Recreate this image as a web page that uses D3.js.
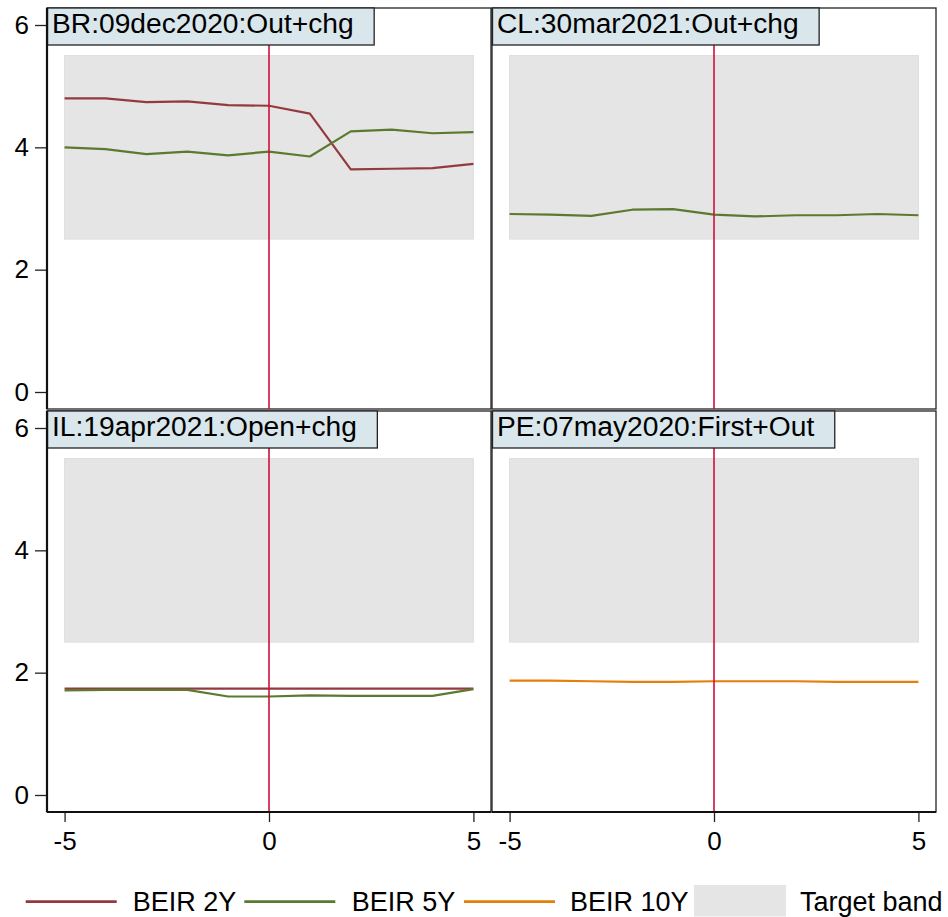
<!DOCTYPE html>
<html lang="en">
<head>
<meta charset="utf-8">
<title>BEIR around events</title>
<script src="https://d3js.org/d3.v7.min.js"></script>
<style>
  body { margin: 0; background: #fff; }
  text { font-family: "Liberation Sans", Arial, sans-serif; fill: #000; }
</style>
</head>
<body>
<div class="chart"></div>
<script>
// event window (days)
var days = [-5, -4, -3, -2, -1, 0, 1, 2, 3, 4, 5];

var panelTitles = ["BR:09dec2020:Out+chg", "CL:30mar2021:Out+chg",
                   "IL:19apr2021:Open+chg", "PE:07may2020:First+Out"];

// series
var br2y  = [4.80, 4.80, 4.74, 4.75, 4.69, 4.68, 4.55, 3.64, 3.65, 3.66, 3.73];
var br5y  = [4.00, 3.97, 3.89, 3.93, 3.87, 3.93, 3.85, 4.26, 4.29, 4.23, 4.25];
var cl5y  = [2.91, 2.90, 2.88, 2.98, 2.99, 2.90, 2.87, 2.89, 2.89, 2.91, 2.89];
var il2y  = [1.74, 1.74, 1.74, 1.74, 1.74, 1.74, 1.74, 1.74, 1.74, 1.74, 1.74];
var il5y  = [1.71, 1.72, 1.72, 1.72, 1.61, 1.61, 1.63, 1.62, 1.62, 1.62, 1.73];
var pe10y = [1.87, 1.87, 1.86, 1.85, 1.85, 1.86, 1.86, 1.86, 1.85, 1.85, 1.85];

var targetBand = [2.5, 5.5];
var yTicks = [0, 2, 4, 6];
var xTicks = [-5, 0, 5];
var legendLabels = ["BEIR 2Y", "BEIR 5Y", "BEIR 10Y", "Target band"];

var colors = { b2: "#933a3f", b5: "#5b7a2f", b10: "#e57e0b" };

var panels = [
  { title: panelTitles[0], series: [{ c: colors.b2, v: br2y }, { c: colors.b5, v: br5y }] },
  { title: panelTitles[1], series: [{ c: colors.b5, v: cl5y }] },
  { title: panelTitles[2], series: [{ c: colors.b2, v: il2y }, { c: colors.b5, v: il5y }] },
  { title: panelTitles[3], series: [{ c: colors.b10, v: pe10y }] }
];

var width = 948, height = 917;
var colX = [47, 492], rowY = [8, 411];
var pw = 444, ph = 401;

var svg = d3.select(".chart").append("svg")
    .attr("width", width)
    .attr("height", height);

panels.forEach(function(p, i) {
  var col = i % 2, row = Math.floor(i / 2);
  var x0 = colX[col], y0 = rowY[row];

  var x = d3.scaleLinear().domain([-5.43, 5.43]).range([x0, x0 + pw]);
  var y = d3.scaleLinear().domain([-0.278, 6.278]).range([y0 + ph, y0]);

  var g = svg.append("g");

  // frame
  g.append("rect")
    .attr("x", x0).attr("y", y0)
    .attr("width", pw).attr("height", ph)
    .attr("fill", "#fff")
    .attr("stroke", "#222")
    .attr("stroke-width", 1.3);

  // target band
  g.append("rect")
    .attr("x", x(-5)).attr("y", y(targetBand[1]))
    .attr("width", x(5) - x(-5))
    .attr("height", y(targetBand[0]) - y(targetBand[1]))
    .attr("fill", "#e5e5e5")
    .attr("stroke", "#dedede")
    .attr("stroke-width", 1);

  var line = d3.line()
    .x(function(d, j) { return x(days[j]); })
    .y(function(d) { return y(d); });

  p.series.forEach(function(s) {
    g.append("path")
      .attr("d", line(s.v))
      .attr("fill", "none")
      .attr("stroke", s.c)
      .attr("stroke-width", 2.2)
      .attr("stroke-linejoin", "round");
  });

  // event day
  g.append("line")
    .attr("x1", x(0)).attr("x2", x(0))
    .attr("y1", y0).attr("y2", y0 + ph)
    .attr("stroke", "#cf0f3c")
    .attr("stroke-width", 1.6);

  // title box
  var tb = g.append("g");
  var box = tb.append("rect")
    .attr("x", x0 + 0.5).attr("y", y0)
    .attr("height", 37)
    .attr("fill", "#d9e6ec")
    .attr("stroke", "#222")
    .attr("stroke-width", 1.3);
  var t = tb.append("text")
    .attr("x", x0 + 5)
    .attr("y", y0 + 25)
    .style("font-size", "28.2px")
    .text(p.title);
  box.attr("width", t.node().getComputedTextLength() + 25);

  // axes
  if (col === 0) {
    var ay = g.append("g")
      .attr("transform", "translate(" + x0 + ",0)")
      .call(d3.axisLeft(y).tickValues(yTicks).tickSize(12).tickPadding(6)
        .tickFormat(function(d) { return String(d); }));
    ay.select(".domain").remove();
    ay.selectAll("text").style("font-size", "26px").attr("font-family", null);
    ay.selectAll("line").attr("stroke", "#222").attr("stroke-width", 1.3);
    g.append("line")
      .attr("x1", x0).attr("x2", x0)
      .attr("y1", y0).attr("y2", y0 + ph)
      .attr("stroke", "#111").attr("stroke-width", 2.2);
  }
  if (row === 1) {
    var ax = g.append("g")
      .attr("transform", "translate(0," + (y0 + ph) + ")")
      .call(d3.axisBottom(x).tickValues(xTicks).tickSize(10).tickPadding(10)
        .tickFormat(function(d) { return String(d); }));
    ax.select(".domain").remove();
    ax.selectAll("text").style("font-size", "26px").attr("font-family", null);
    ax.selectAll("line").attr("stroke", "#222").attr("stroke-width", 1.3);
    g.append("line")
      .attr("x1", x0).attr("x2", x0 + pw)
      .attr("y1", y0 + ph).attr("y2", y0 + ph)
      .attr("stroke", "#111").attr("stroke-width", 2.2);
  }
});

// legend
var legend = svg.append("g");
var keyX = [25.7, 244.3, 464, 694];
var labelX = [132.7, 351.7, 570, 800];
var keyColors = [colors.b2, colors.b5, colors.b10];

legendLabels.forEach(function(lab, i) {
  if (i < 3) {
    legend.append("line")
      .attr("x1", keyX[i]).attr("x2", keyX[i] + 91)
      .attr("y1", 901.7).attr("y2", 901.7)
      .attr("stroke", keyColors[i])
      .attr("stroke-width", 2.8);
  } else {
    legend.append("rect")
      .attr("x", keyX[i]).attr("y", 885)
      .attr("width", 92).attr("height", 31.5)
      .attr("fill", "#e5e5e5");
  }
  legend.append("text")
    .attr("x", labelX[i])
    .attr("y", 910.7)
    .style("font-size", "27px")
    .text(lab);
});
</script>
</body>
</html>
